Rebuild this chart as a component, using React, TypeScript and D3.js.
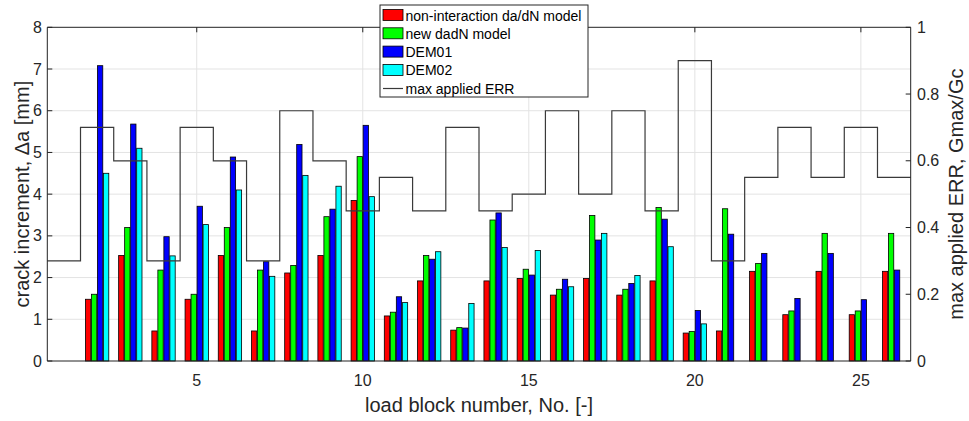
import React from "react";
import * as d3 from "d3";

const blocks = d3.range(1, 27);
const nonInteraction = [0, 1.48, 2.53, 0.72, 1.48, 2.53, 0.72, 2.11, 2.53, 3.85, 1.08, 1.92, 0.74, 1.92, 1.98, 1.58, 1.98, 1.58, 1.92, 0.67, 0.72, 2.15, 1.11, 2.15, 1.11, 2.15];
const newDadN = [0, 1.6, 3.2, 2.18, 1.6, 3.2, 2.18, 2.29, 3.46, 4.9, 1.17, 2.53, 0.8, 3.38, 2.2, 1.72, 3.49, 1.72, 3.68, 0.71, 3.65, 2.34, 1.2, 3.06, 1.2, 3.06];
const dem01 = [0, 7.08, 5.68, 2.98, 3.71, 4.89, 2.38, 5.19, 3.64, 5.65, 1.54, 2.44, 0.79, 3.55, 2.06, 1.96, 2.9, 1.86, 3.4, 1.21, 3.04, 2.58, 1.5, 2.58, 1.47, 2.18];
const dem02 = [0, 4.5, 5.1, 2.52, 3.27, 4.1, 2.03, 4.45, 4.19, 3.94, 1.4, 2.62, 1.38, 2.72, 2.65, 1.78, 3.06, 2.05, 2.74, 0.89, 0, 0, 0, 0, 0, 0];
const maxERR = [0.3, 0.7, 0.6, 0.3, 0.7, 0.6, 0.3, 0.75, 0.6, 0.45, 0.55, 0.45, 0.7, 0.45, 0.5, 0.75, 0.5, 0.75, 0.45, 0.9, 0.3, 0.55, 0.7, 0.55, 0.7, 0.55];

const seriesNames = ["non-interaction da/dN model", "new dadN model", "DEM01", "DEM02"];
const seriesColors = ["#ff0000", "#00ff00", "#0000ff", "#00ffff"];
const seriesData = [nonInteraction, newDadN, dem01, dem02];
const xTicks = [5, 10, 15, 20, 25];
const yLeftTicks = [0, 1, 2, 3, 4, 5, 6, 7, 8];
const yRightTicks = [0, 0.2, 0.4, 0.6, 0.8, 1];

export default function App() {
  const W = 969, H = 421;
  const L = 47.3, R = 910.7, T = 27.3, B = 361;
  const x = d3.scaleLinear().domain([0.5, 26.5]).range([L, R]);
  const yL = d3.scaleLinear().domain([0, 8]).range([B, T]);
  const yR = d3.scaleLinear().domain([0, 1]).range([B, T]);
  const pitch = 0.181;
  const bw = 0.16;
  const font = "'Liberation Sans', Arial, Helvetica, sans-serif";

  const stairPts: [number, number][] = blocks.map((b, i) => [b - 0.5, maxERR[i]] as [number, number]);
  stairPts.push([26.5, maxERR[maxERR.length - 1]]);
  const stairLine = d3.line<[number, number]>().x(d => x(d[0])).y(d => yR(d[1])).curve(d3.curveStepAfter);

  const tick = 5;
  return (
    <svg width={W} height={H} style={{ position: "fixed", left: 0, top: 0, background: "#fff" }} fontFamily={font}>
      <rect x={0} y={0} width={W} height={H} fill="#fff" />
      {/* grid */}
      {yLeftTicks.slice(1, -1).map(t => (
        <line key={"gy" + t} x1={L} x2={R} y1={yL(t)} y2={yL(t)} stroke="#e3e3e3" strokeWidth={1} />
      ))}
      {xTicks.map(t => (
        <line key={"gx" + t} x1={x(t)} x2={x(t)} y1={T} y2={B} stroke="#e3e3e3" strokeWidth={1} />
      ))}
      {/* bars */}
      {seriesData.map((s, si) =>
        s.map((v, i) => {
          if (v <= 0) return null;
          const cx = blocks[i] + (si - 1.5) * pitch;
          const x0 = x(cx - bw / 2);
          const x1 = x(cx + bw / 2);
          return (
            <rect key={si + "-" + i} x={x0} y={yL(v)} width={x1 - x0} height={B - yL(v)}
              fill={seriesColors[si]} stroke="#000" strokeWidth={0.8} />
          );
        })
      )}
      {/* stair line */}
      <path d={stairLine(stairPts) || ""} fill="none" stroke="#3a3a3a" strokeWidth={1.2} />
      {/* axes box */}
      <line x1={L} x2={R} y1={T} y2={T} stroke="#222" strokeWidth={1} />
      <line x1={L} x2={R} y1={B} y2={B} stroke="#222" strokeWidth={1} />
      <line x1={L} x2={L} y1={T} y2={B} stroke="#222" strokeWidth={1} />
      <line x1={R} x2={R} y1={T} y2={B} stroke="#222" strokeWidth={1} />
      {/* x ticks */}
      {xTicks.map(t => (
        <g key={"xt" + t}>
          <line x1={x(t)} x2={x(t)} y1={B} y2={B - tick} stroke="#222" />
          <line x1={x(t)} x2={x(t)} y1={T} y2={T + tick} stroke="#222" />
          <text x={x(t)} y={386} textAnchor="middle" fontSize={16} fill="#262626">{t}</text>
        </g>
      ))}
      {/* left y ticks */}
      {yLeftTicks.map(t => (
        <g key={"yl" + t}>
          <line x1={L} x2={L + tick} y1={yL(t)} y2={yL(t)} stroke="#222" />
          <text x={42} y={yL(t) + 5.5} textAnchor="end" fontSize={16} fill="#262626">{t}</text>
        </g>
      ))}
      {/* right y ticks */}
      {yRightTicks.map(t => (
        <g key={"yr" + t}>
          <line x1={R - tick} x2={R} y1={yR(t)} y2={yR(t)} stroke="#222" />
          <text x={917} y={yR(t) + 5.5} textAnchor="start" fontSize={16} fill="#262626">{t}</text>
        </g>
      ))}
      {/* axis labels */}
      <text x={479} y={412} textAnchor="middle" fontSize={20} fill="#262626">load block number, No. [-]</text>
      <text transform={`translate(29,${(T + B) / 2}) rotate(-90)`} textAnchor="middle" fontSize={20} fill="#262626">crack increment, Δa [mm]</text>
      <text transform={`translate(963,${(T + B) / 2}) rotate(-90)`} textAnchor="middle" fontSize={20} fill="#262626">max applied ERR, Gmax/Gc</text>
      {/* legend */}
      <g>
        <rect x={380} y={5} width={208} height={92} fill="#fff" stroke="#262626" strokeWidth={1} />
        {seriesNames.map((n, i) => (
          <g key={"lg" + i}>
            <rect x={383} y={9.5 + i * 18.3} width={20} height={11} fill={seriesColors[i]} stroke="#000" strokeWidth={0.8} />
            <text x={405.5} y={20.5 + i * 18.3} fontSize={14} fill="#000">{n}</text>
          </g>
        ))}
        <line x1={383} x2={403} y1={88.5} y2={88.5} stroke="#3a3a3a" strokeWidth={1.2} />
        <text x={405.5} y={93.5} fontSize={14} fill="#000">max applied ERR</text>
      </g>
    </svg>
  );
}
